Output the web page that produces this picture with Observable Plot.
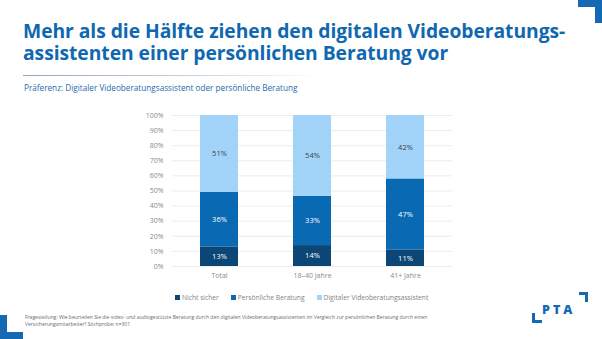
<!DOCTYPE html>
<html>
<head>
<meta charset="utf-8">
<script src="https://cdn.jsdelivr.net/npm/d3@7"></script>
<script src="https://cdn.jsdelivr.net/npm/@observablehq/plot@0.6"></script>
<style>
  html, body { margin: 0; padding: 0; background: #fff; }
  #page { position: relative; width: 602px; height: 339px; overflow: hidden; background: #fff; font-family: "Open Sans", sans-serif; }
  #title { position: absolute; left: 23px; top: 20px; font-size: 19.3px; font-weight: 700; line-height: 22px; color: #0f68b0; letter-spacing: -0.05px; white-space: nowrap; }
  #rule { position: absolute; left: 23px; top: 75px; width: 300px; height: 1px; background: linear-gradient(to right, #8ea6bd, #c9d6e2 60%, rgba(255,255,255,0)); }
  #subtitle { position: absolute; left: 24px; top: 82px; font-size: 8.2px; color: #1f6aad; white-space: nowrap; }
  #chart { position: absolute; left: 0; top: 105px; }
  #legend { position: absolute; left: 175px; top: 293px; font-size: 6.7px; color: #858585; white-space: nowrap; display: flex; gap: 0; }
  #legend span.item { display: inline-flex; align-items: center; margin-right: 12px; }
  #legend span.sw { display: inline-block; width: 5px; height: 5px; margin-right: 2px; }
  #foot { position: absolute; left: 25px; top: 314px; font-size: 5px; line-height: 6.5px; color: #6a6a6a; white-space: nowrap; }
  .blk { position: absolute; background: #1569b3; }
  #pta { position: absolute; left: 542px; top: 303px; font-size: 12.5px; font-weight: 800; color: #1569b3; letter-spacing: 3px; line-height: 14px; font-family: "Open Sans", sans-serif; }
</style>
</head>
<body>
<div id="page">
  <div class="blk" style="left:578px;top:0;width:24px;height:7px"></div>
  <div class="blk" style="left:595px;top:0;width:7px;height:23px"></div>
  <div class="blk" style="left:0;top:315px;width:7px;height:24px"></div>
  <div class="blk" style="left:0;top:332px;width:23px;height:7px"></div>
  <div id="title">Mehr als die Hälfte ziehen den digitalen Videoberatungs-<br>assistenten einer persönlichen Beratung vor</div>
  <div id="rule"></div>
  <div id="subtitle">Präferenz: Digitaler Videoberatungsassistent oder persönliche Beratung</div>
  <div id="chart"></div>
  <div id="legend"></div>
  <div id="foot">Fragestellung: Wie beurteilen Sie die video- und audiogestützte Beratung durch den digitalen Videoberatungsassistenten im Vergleich zur persönlichen Beratung durch einen<br>Versicherungsmitarbeiter? Stichprobe: n=301</div>
  <div class="blk" style="left:532px;top:313px;width:3px;height:10px"></div>
  <div class="blk" style="left:532px;top:320px;width:10px;height:3px"></div>
  <div class="blk" style="left:579px;top:292px;width:9px;height:3px"></div>
  <div class="blk" style="left:585px;top:292px;width:3px;height:10px"></div>
  <div id="pta">PTA</div>
</div>
<script>
const categories = ["Total", "18–40 Jahre", "41+ Jahre"];
const series = ["Nicht sicher", "Persönliche Beratung", "Digitaler Videoberatungsassistent"];
const nichtSicher = [13, 14, 11];
const persoenlich = [36, 33, 47];
const digital = [51, 54, 42];
const colors = ["#0b4677", "#0a69b3", "#a2d4fa"];
const yTicks = [0, 0.1, 0.2, 0.3, 0.4, 0.5, 0.6, 0.7, 0.8, 0.9, 1];

const values = [nichtSicher, persoenlich, digital];
const data = [];
categories.forEach((c, i) => {
  series.forEach((s, j) => data.push({cat: c, series: s, value: values[j][i]}));
});

const stackOpts = {x: "cat", y: "value", z: "series", offset: "normalize", order: series};

const chart = Plot.plot({
  width: 602,
  height: 180,
  marginTop: 10,
  marginBottom: 19,
  marginLeft: 172,
  marginRight: 150,
  style: {fontFamily: "Open Sans, sans-serif", fontSize: "7px", color: "#8a8a8a", background: "transparent"},
  x: {domain: categories, paddingInner: 0.59, paddingOuter: 0.295, label: null, tickSize: 0, tickPadding: 7},
  y: {domain: [0, 1], ticks: yTicks, tickFormat: d3.format(".0%"), label: null, tickSize: 0, tickPadding: 9},
  color: {domain: series, range: colors},
  marks: [
    Plot.ruleY(yTicks, {stroke: "#ececec", strokeWidth: 1}),
    Plot.barY(data, Plot.stackY({...stackOpts, fill: "series"})),
    Plot.text(data, Plot.stackY({...stackOpts, text: d => d.series === series[2] ? null : d.value + "%", fill: "#ffffff", fontSize: 7.5})),
    Plot.text(data, Plot.stackY({...stackOpts, text: d => d.series === series[2] ? d.value + "%" : null, fill: "#404040", fontSize: 7.5}))
  ]
});
document.getElementById("chart").appendChild(chart);

const legend = document.getElementById("legend");
series.forEach((s, j) => {
  const item = document.createElement("span");
  item.className = "item";
  const sw = document.createElement("span");
  sw.className = "sw";
  sw.style.background = colors[j];
  item.appendChild(sw);
  item.appendChild(document.createTextNode(s));
  legend.appendChild(item);
});
</script>
</body>
</html>
